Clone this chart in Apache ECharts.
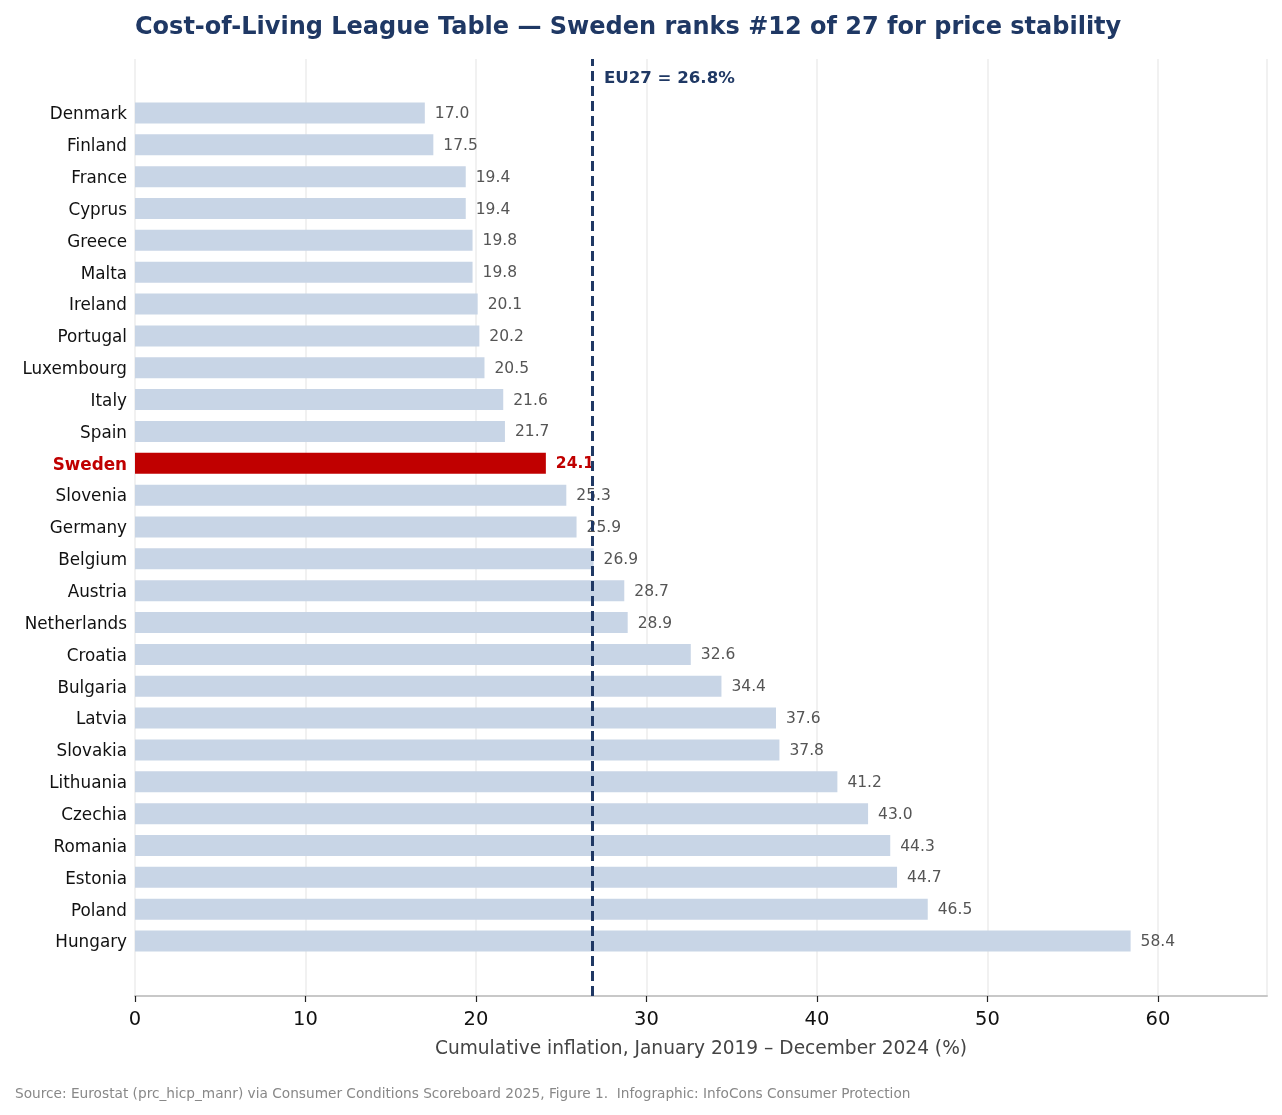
<!DOCTYPE html>
<html>
<head>
<meta charset="utf-8">
<script src="https://cdn.jsdelivr.net/npm/echarts@6/dist/echarts.min.js"></script>
<style>
  html, body { margin: 0; padding: 0; background: #fff; }
  #chart { width: 1282px; height: 1115px; }
</style>
</head>
<body>
<div id="chart"></div>
<script>
// countries, sorted from lowest to highest cumulative inflation
var countries = ['Denmark', 'Finland', 'France', 'Cyprus', 'Greece', 'Malta', 'Ireland', 'Portugal',
    'Luxembourg', 'Italy', 'Spain', 'Sweden', 'Slovenia', 'Germany', 'Belgium', 'Austria',
    'Netherlands', 'Croatia', 'Bulgaria', 'Latvia', 'Slovakia', 'Lithuania', 'Czechia',
    'Romania', 'Estonia', 'Poland', 'Hungary'];
var inflation = [17.0, 17.5, 19.4, 19.4, 19.8, 19.8, 20.1, 20.2, 20.5, 21.6, 21.7, 24.1, 25.3,
    25.9, 26.9, 28.7, 28.9, 32.6, 34.4, 37.6, 37.8, 41.2, 43.0, 44.3, 44.7, 46.5, 58.4];
var xTicks = [0, 10, 20, 30, 40, 50, 60];
var eu27 = 26.8;
var highlight = 'Sweden';

var FONT = 'DejaVu Sans';
var NAVY = '#1f3864';
var RED = '#c00000';
var BAR = '#c8d5e6';
var X_MAX = 66.4;

var myChart = echarts.init(document.getElementById('chart'));

var barData = [];
countries.forEach(function(name, i) {
    var isHi = name === highlight;
    barData.push({
        value: inflation[i],
        itemStyle: { color: isHi ? RED : BAR },
        label: isHi ? { color: RED, fontWeight: 'bold' } : {}
    });
});

var option = {
    backgroundColor: '#fff',
    animation: false,
    textStyle: { fontFamily: FONT },
    title: [{
        text: 'Cost-of-Living League Table \u2014 Sweden ranks #12 of 27 for price stability',
        left: 135,
        top: 16,
        padding: 0,
        textStyle: { fontFamily: FONT, fontSize: 24, fontWeight: 'bold', color: NAVY }
    }, {
        text: 'Source: Eurostat (prc_hicp_manr) via Consumer Conditions Scoreboard 2025, Figure 1.  Infographic: InfoCons Consumer Protection',
        left: 15,
        top: 1087,
        padding: 0,
        textStyle: { fontFamily: FONT, fontSize: 13.7, fontWeight: 'normal', color: '#888888' }
    }],
    grid: [
        // bars
        { left: 135, right: 15, top: 97, bottom: 158 },
        // frame: gridlines, x axis, reference line
        { left: 135, right: 15, top: 59, bottom: 119 }
    ],
    xAxis: [{
        gridIndex: 0,
        type: 'value',
        min: 0,
        max: X_MAX,
        show: false
    }, {
        gridIndex: 1,
        type: 'value',
        min: 0,
        max: X_MAX,
        interval: 10,
        name: 'Cumulative inflation, January 2019 \u2013 December 2024 (%)',
        nameLocation: 'middle',
        nameGap: 44,
        nameTextStyle: { fontFamily: FONT, fontSize: 18.6, color: '#444444' },
        axisLine: { show: true, lineStyle: { color: '#c8c8c8', width: 2 } },
        axisTick: { show: true, length: 6, lineStyle: { color: '#222', width: 1.2 } },
        axisLabel: {
            fontFamily: FONT, fontSize: 19.5, color: '#111', margin: 14,
            showMaxLabel: false,
            formatter: function(v) { return xTicks.indexOf(v) >= 0 ? String(v) : ''; }
        },
        splitLine: { show: true, lineStyle: { color: '#ececec', width: 1.5 } }
    }],
    yAxis: [{
        gridIndex: 0,
        type: 'category',
        inverse: true,
        data: countries,
        axisLine: { show: false },
        axisTick: { show: false },
        axisLabel: {
            fontFamily: FONT,
            fontSize: 16.8,
            color: '#111',
            margin: 8,
            padding: [4, 0, 0, 0],
            formatter: function(v) { return v === highlight ? '{hi|' + v + '}' : v; },
            rich: { hi: { fontFamily: FONT, fontSize: 16.8, fontWeight: 'bold', color: RED } }
        },
        splitLine: { show: false }
    }, {
        gridIndex: 1,
        type: 'value',
        min: 0,
        max: 1,
        show: false
    }],
    series: [{
        name: 'Cumulative inflation',
        type: 'bar',
        xAxisIndex: 0,
        yAxisIndex: 0,
        data: barData,
        barWidth: 21,
        z: 3,
        label: {
            show: true,
            position: 'right',
            distance: 10,
            fontFamily: FONT,
            fontSize: 15.5,
            color: '#555555',
            offset: [0, 1],
            formatter: function(p) { return p.value.toFixed(1); }
        }
    }, {
        name: 'EU27',
        type: 'line',
        xAxisIndex: 1,
        yAxisIndex: 1,
        data: [],
        z: 4,
        markLine: {
            silent: true,
            symbol: 'none',
            label: { show: false },
            lineStyle: { color: NAVY, width: 3, type: [10, 5] },
            data: [{ xAxis: eu27 }]
        },
        markPoint: {
            silent: true,
            symbol: 'circle',
            symbolSize: 0,
            data: [{ coord: [eu27, 0.979] }],
            label: {
                show: true,
                position: 'right',
                distance: 12,
                formatter: 'EU27 = ' + eu27.toFixed(1) + '%',
                fontFamily: FONT,
                fontSize: 16.6,
                fontWeight: 'bold',
                color: NAVY
            }
        }
    }]
};
myChart.setOption(option);
</script>
</body>
</html>
